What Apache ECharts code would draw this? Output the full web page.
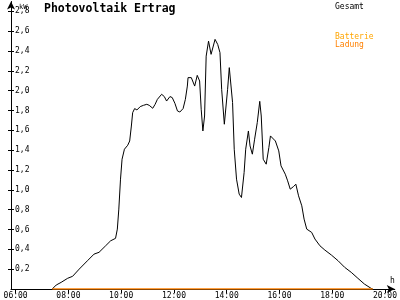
<!DOCTYPE html>
<html><head><meta charset="utf-8">
<script src="https://cdn.jsdelivr.net/npm/echarts@6/dist/echarts.min.js"></script>
<style>html,body{margin:0;padding:0;background:#fff}#c{width:400px;height:300px}</style>
</head><body><div id="c"></div>
<script>
// Hours (decimal) and PV output (kW)
const hours = [7.387,7.537,7.725,7.972,8.160,8.411,8.722,8.973,9.161,9.412,9.600,9.787,9.855,9.911,9.975,10.034,10.124,10.248,10.323,10.387,10.436,10.511,10.597,10.724,10.848,10.972,11.062,11.197,11.287,11.373,11.534,11.636,11.722,11.849,11.936,12.037,12.134,12.224,12.348,12.434,12.509,12.535,12.659,12.787,12.884,12.974,13.034,13.098,13.162,13.222,13.312,13.409,13.559,13.660,13.746,13.810,13.911,14.035,14.099,14.159,14.223,14.286,14.373,14.474,14.560,14.661,14.721,14.823,14.886,14.973,15.059,15.160,15.254,15.310,15.385,15.498,15.599,15.659,15.723,15.846,15.974,16.060,16.221,16.311,16.409,16.536,16.622,16.724,16.847,16.934,17.035,17.099,17.222,17.346,17.534,17.721,17.972,18.223,18.471,18.722,18.973,19.221,19.472,19.536];
const pvKW = [0,0.04,0.067,0.108,0.128,0.201,0.285,0.352,0.370,0.436,0.486,0.511,0.604,0.806,1.108,1.309,1.410,1.450,1.493,1.644,1.779,1.820,1.806,1.840,1.853,1.863,1.853,1.823,1.863,1.913,1.964,1.941,1.896,1.941,1.931,1.873,1.796,1.785,1.820,1.913,2.047,2.132,2.132,2.047,2.155,2.098,1.813,1.594,1.745,2.349,2.500,2.367,2.518,2.467,2.384,2.014,1.662,2.014,2.233,2.233,1.880,1.410,1.108,0.957,0.923,1.175,1.410,1.594,1.443,1.360,1.511,1.679,1.893,1.745,1.309,1.259,1.427,1.544,1.561,1.493,1.393,1.242,1.158,1.091,1.007,1.034,1.057,0.940,0.839,0.705,0.604,0.587,0.571,0.504,0.436,0.393,0.342,0.285,0.219,0.168,0.108,0.050,0.007,0];
// Battery charging (kW) – zero all day
const batHours = [7.387,19.536];
const batKW = [0,0];
const xTicks = [6,8,10,12,14,16,18,20];
const yTicks = [0.2,0.4,0.6,0.8,1.0,1.2,1.4,1.6,1.8,2.0,2.2,2.4,2.6,2.8];

const F = 'DejaVu Sans Mono';
const chart = echarts.init(document.getElementById('c'), null, {renderer:'canvas'});
const xBase = {type:'value', min:5.824, max:20.372, splitLine:{show:false}};
const yBase = {type:'value', min:0, max:2.9, splitLine:{show:false}};
chart.setOption({
  animation:false,
  backgroundColor:'#fff',
  grid:{left:11,right:1,top:1.5,bottom:10,containLabel:false},
  title:[
    {text:'Photovoltaik Ertrag',left:39,top:-2,textStyle:{fontFamily:F,fontWeight:'bold',fontSize:11.5,color:'#000'}},
    {text:'kW',left:14,top:-1,textStyle:{fontFamily:F,fontWeight:'normal',fontSize:7,color:'#000'}},
    {text:'Gesamt',left:330,top:-2,textStyle:{fontFamily:F,fontWeight:'normal',fontSize:8,color:'#000'}},
    {text:'Batterie',left:330,top:28,textStyle:{fontFamily:F,fontWeight:'normal',fontSize:8,color:'#ffa500'}},
    {text:'Ladung',left:330,top:36,textStyle:{fontFamily:F,fontWeight:'normal',fontSize:8,color:'#ff8000'}},
    {text:'h',left:385,top:272,textStyle:{fontFamily:F,fontWeight:'normal',fontSize:8,color:'#000'}}
  ],
  xAxis:[
    Object.assign({}, xBase, {
      axisLine:{lineStyle:{color:'#000',width:1},symbol:['none','arrow'],symbolSize:[6,8]},
      axisTick:{show:true,length:4,lineStyle:{color:'#000'},customValues:xTicks},
      axisLabel:{show:true,margin:3,fontFamily:F,fontSize:8,color:'#000',customValues:xTicks,
        alignMinLabel:'center',alignMaxLabel:'center',
        formatter:v=>String(v).padStart(2,'0')+':00'}
    }),
    Object.assign({}, xBase, {
      axisLine:{show:false},
      axisTick:{show:true,inside:true,length:3,lineStyle:{color:'#000'},customValues:xTicks},
      axisLabel:{show:false}
    })
  ],
  yAxis:[
    Object.assign({}, yBase, {
      axisLine:{show:true,lineStyle:{color:'#000',width:1},symbol:['none','arrow'],symbolSize:[6,8]},
      axisTick:{show:true,length:3,lineStyle:{color:'#000'},customValues:yTicks},
      axisLabel:{show:true,inside:true,margin:4,fontFamily:F,fontSize:8,color:'#000',customValues:yTicks,
        formatter:v=>v.toFixed(1).replace('.',',')}
    }),
    Object.assign({}, yBase, {
      position:'left',
      axisLine:{show:false},
      axisTick:{show:true,inside:true,length:3,lineStyle:{color:'#000'},customValues:yTicks},
      axisLabel:{show:false}
    })
  ],
  series:[
    {type:'line',name:'Gesamt',data:hours.map((h,i)=>[h,pvKW[i]]),showSymbol:false,
      lineStyle:{color:'#000',width:1},itemStyle:{color:'#000'},z:3},
    {type:'line',name:'Batterie Ladung',data:batHours.map((h,i)=>[h,batKW[i]]),showSymbol:false,
      lineStyle:{color:'#ff8000',width:1.5},itemStyle:{color:'#ff8000'},z:4}
  ]
});
</script></body></html>
